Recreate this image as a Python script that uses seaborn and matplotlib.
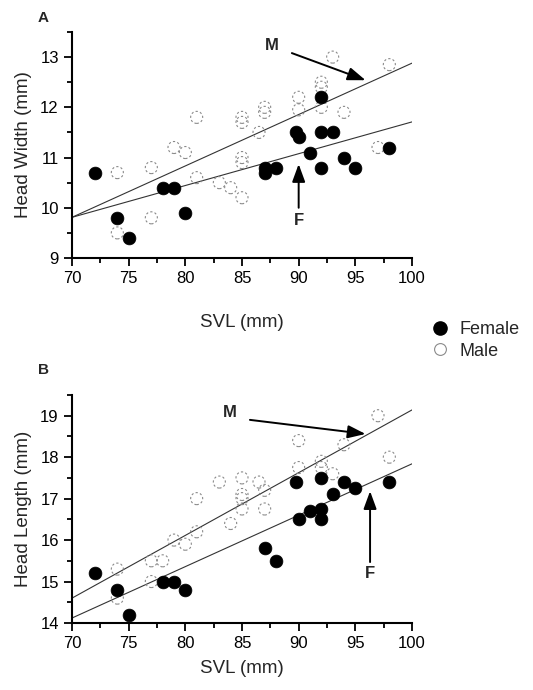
import matplotlib
matplotlib.use("Agg")
import matplotlib.pyplot as plt
from matplotlib.lines import Line2D
from matplotlib.ticker import MultipleLocator
import seaborn as sns
import pandas as pd

# ---------------- data ----------------
# Panel A: Head width vs SVL
fem_svl_A = [72, 74, 75, 78, 79, 80, 87, 87, 88, 89.8, 90, 91, 92, 92, 93, 92, 94, 95, 98]
fem_hw_A = [10.7, 9.8, 9.4, 10.4, 10.4, 9.9, 10.8, 10.7, 10.8, 11.5, 11.4, 11.1, 12.2, 11.5, 11.5, 10.8, 11.0, 10.8, 11.2]
male_svl_A = [74, 74, 77, 77, 79, 80, 81, 81, 83, 84, 85, 85, 85, 85, 85, 86.5, 87, 87,
              90, 90, 92, 92, 92, 93, 94, 98, 97]
male_hw_A = [10.7, 9.5, 10.8, 9.8, 11.2, 11.1, 11.8, 10.6, 10.5, 10.4, 10.2, 11.0, 10.9, 11.8, 11.7, 11.5, 12.0, 11.9,
             12.2, 11.95, 12.5, 12.4, 12.0, 13.0, 11.9, 12.85, 11.2]

# Panel B: Head length vs SVL
fem_svl_B = [72, 74, 75, 78, 79, 80, 87, 88, 89.8, 90, 91, 92, 92, 92, 93, 94, 95, 98]
fem_hl_B = [15.2, 14.8, 14.2, 15.0, 15.0, 14.8, 15.8, 15.5, 17.4, 16.5, 16.7, 17.5, 16.75, 16.5, 17.1, 17.4, 17.25, 17.4]
male_svl_B = [74, 74, 77, 77, 78, 79, 80, 81, 81, 83, 84, 85, 85, 85, 85, 86.5, 87, 87,
              90, 90, 92, 92, 93, 94, 97, 98]
male_hl_B = [15.3, 14.6, 15.5, 15.0, 15.5, 16.0, 15.9, 16.2, 17.0, 17.4, 16.4, 17.5, 17.1, 17.0, 16.75, 17.4, 17.2, 16.75,
             18.4, 17.75, 17.9, 17.75, 17.6, 18.3, 19.0, 18.0]

# Fitted regression lines (end points at SVL 70 and 100)
fit_svl = [70, 100]
fit_male_A = [9.81, 12.88]
fit_fem_A = [9.81, 11.71]
fit_male_B = [14.6, 19.14]
fit_fem_B = [14.12, 17.84]

# Arrow annotations: (text x, text y), arrow tail, arrow head
arrows_A = {"M": ((87.6, 13.24), (89.4, 13.08), (95.9, 12.54)),
            "F": ((90.0, 9.75), (90.0, 10.0), (90.0, 10.87))}
arrows_B = {"M": ((83.9, 19.07), (85.7, 18.9), (95.9, 18.56)),
            "F": ((96.3, 15.2), (96.3, 15.47), (96.3, 17.18))}

x_ticks = [70, 75, 80, 85, 90, 95, 100]
y_ticks_A = [9, 10, 11, 12, 13]
y_ticks_B = [14, 15, 16, 17, 18, 19]

# ---------------- style ----------------
sns.set_style("ticks")
plt.rcParams["font.family"] = ["Liberation Sans", "DejaVu Sans"]

fig = plt.figure(figsize=(5.33, 6.9), dpi=100)
W, H = 533, 690
axA = fig.add_axes([72 / W, (H - 258) / H, 340 / W, 226 / H])
axB = fig.add_axes([72 / W, (H - 623) / H, 340 / W, 228 / H])


def draw_panel(ax, msvl, mval, fsvl, fval, fit_m, fit_f, yticks, ylim, ylabel,
               letter, letter_y, arrows, xlabelpad):
    dm = pd.DataFrame({"svl": msvl, "val": mval})
    df = pd.DataFrame({"svl": fsvl, "val": fval})
    dl = pd.DataFrame({"svl": fit_svl * 2, "val": fit_m + fit_f,
                       "sex": ["M", "M", "F", "F"]})
    sns.lineplot(data=dl, x="svl", y="val", units="sex", estimator=None,
                 color="#333333", lw=0.8, ax=ax, legend=False)
    sns.scatterplot(data=dm, x="svl", y="val", ax=ax, s=75, color="none",
                    edgecolor="#8a8a8a", linewidth=0.8, linestyle=(0, (2, 2)),
                    legend=False, zorder=3)
    ax.collections[-1].set_facecolor("none")
    sns.scatterplot(data=df, x="svl", y="val", ax=ax, s=85, color="black",
                    edgecolor="black", linewidth=0.5, legend=False, zorder=4)

    ax.set_xlim(70, 100)
    ax.set_ylim(*ylim)
    ax.set_xticks(x_ticks)
    ax.set_yticks(yticks)
    ax.xaxis.set_minor_locator(MultipleLocator(2.5))
    ax.yaxis.set_minor_locator(MultipleLocator(0.5))
    ax.tick_params(which="major", direction="out", length=5.5, width=1.3,
                   labelsize=12, pad=4, color="black", labelcolor="black")
    ax.tick_params(which="minor", direction="out", length=3.5, width=1.3, color="black")
    for s in ["top", "right"]:
        ax.spines[s].set_visible(False)
    for s in ["left", "bottom"]:
        ax.spines[s].set_linewidth(1.5)
        ax.spines[s].set_color("black")
    ax.set_xlabel("SVL (mm)", fontsize=13.5, labelpad=xlabelpad)
    ax.set_ylabel(ylabel, fontsize=13.5, labelpad=6)
    ax.text(-0.085, letter_y, letter, transform=ax.transAxes, fontsize=11,
            fontweight="bold", ha="center", va="center")
    for lab, (tpos, tail, head) in arrows.items():
        ax.text(tpos[0], tpos[1], lab, fontsize=12, fontweight="bold",
                ha="center", va="center")
        ax.annotate("", xy=head, xytext=tail,
                    arrowprops=dict(arrowstyle="-|>,head_length=0.6,head_width=0.22",
                                    color="black", lw=1.4,
                                    mutation_scale=18, shrinkA=0, shrinkB=0))


draw_panel(axA, male_svl_A, male_hw_A, fem_svl_A, fem_hw_A, fit_male_A, fit_fem_A,
           y_ticks_A, (9, 13.5), "Head Width (mm)", "A", 1.062, arrows_A, 20)
draw_panel(axB, male_svl_B, male_hl_B, fem_svl_B, fem_hl_B, fit_male_B, fit_fem_B,
           y_ticks_B, (14, 19.5), "Head Length (mm)", "B", 1.11, arrows_B, 6)

handles = [
    Line2D([], [], marker="o", ls="none", color="black", markersize=9.5),
    Line2D([], [], marker="o", ls="none", markerfacecolor="none",
           markeredgecolor="#8a8a8a", markeredgewidth=0.8, markersize=8.5),
]
fig.legend(handles, ["Female", "Male"], loc="upper left",
           bbox_to_anchor=(420 / W, 1 - 312 / H), frameon=False,
           fontsize=13, handletextpad=0.5, labelspacing=0.25, borderpad=0,
           handlelength=1.2)

fig.savefig("out.png", dpi=100, facecolor="white")
